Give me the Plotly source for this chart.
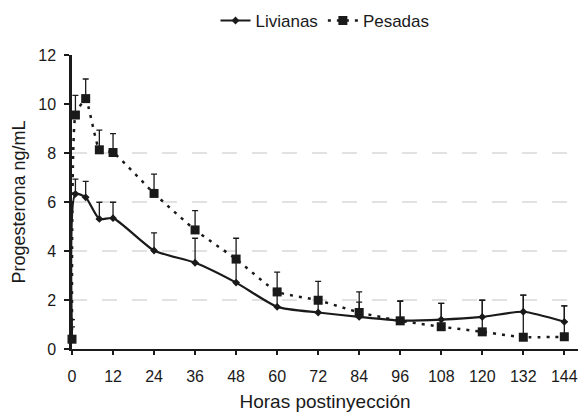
import plotly.graph_objects as go

hours = [0, 1, 4, 8, 12, 24, 36, 48, 60, 72, 84, 96, 108, 120, 132, 144]
livianas = [0.4, 6.33, 6.19, 5.31, 5.34, 4.02, 3.52, 2.71, 1.72, 1.49, 1.31, 1.16, 1.2, 1.31, 1.52, 1.11]
livianas_err = [0.5, 0.6, 0.65, 0.68, 0.65, 0.72, 1.0, 0.9, 0.6, 0.5, 0.6, 0.8, 0.66, 0.68, 0.68, 0.65]
pesadas = [0.4, 9.55, 10.22, 8.13, 8.02, 6.35, 4.86, 3.67, 2.33, 1.99, 1.49, 1.15, 0.91, 0.70, 0.48, 0.5]
pesadas_err = [0.8, 0.8, 0.8, 0.8, 0.77, 0.79, 0.79, 0.85, 0.81, 0.77, 0.84, 0.8, 0.95, 1.29, 1.72, 1.26]
x_ticks = [0, 12, 24, 36, 48, 60, 72, 84, 96, 108, 120, 132, 144]
y_ticks = [0, 2, 4, 6, 8, 10, 12]
grid_levels = [2, 4, 6, 8]

font_family = "Liberation Sans, Arial, sans-serif"
ink = "#1a1a1a"

fig = go.Figure()
fig.add_trace(go.Scatter(
    x=hours, y=livianas, name="Livianas", mode="lines+markers",
    line=dict(color=ink, width=2.2, shape="spline", smoothing=0.6),
    marker=dict(symbol="diamond", size=6, color=ink),
    error_y=dict(type="data", array=livianas_err, symmetric=False,
                 arrayminus=[0] * len(livianas_err), color=ink, thickness=1.3, width=3),
    cliponaxis=False,
))
fig.add_trace(go.Scatter(
    x=hours, y=pesadas, name="Pesadas", mode="lines+markers",
    line=dict(color=ink, width=2.5, dash="3px,6px", shape="spline", smoothing=0.4),
    marker=dict(symbol="square", size=9, color=ink),
    error_y=dict(type="data", array=pesadas_err, symmetric=False,
                 arrayminus=[0] * len(pesadas_err), color=ink, thickness=1.3, width=3),
    cliponaxis=False,
))

for g in grid_levels:
    fig.add_shape(type="line", xref="paper", yref="y", x0=0, x1=1, y0=g, y1=g,
                  line=dict(color="#c4c4c4", width=1, dash="longdash"), layer="below")

fig.update_layout(
    width=582, height=414,
    margin=dict(l=72, r=4, t=54, b=65),
    paper_bgcolor="white", plot_bgcolor="white",
    font=dict(family=font_family, size=16, color=ink),
    showlegend=True,
    legend=dict(orientation="h", x=0.5, xanchor="center", y=1.112, yanchor="middle",
                font=dict(size=17), itemwidth=30, tracegroupgap=0),
    xaxis=dict(range=[0, 148], tickvals=x_ticks, showgrid=False, zeroline=False,
               showline=True, linecolor=ink, linewidth=2, ticks="outside", ticklen=4,
               tickcolor=ink, tickwidth=1.5, tickfont=dict(size=16), ticklabelstandoff=8,
               title=dict(text="Horas postinyección", font=dict(size=19), standoff=10)),
    yaxis=dict(range=[0, 12], tickvals=y_ticks, showgrid=False, zeroline=False,
               showline=True, linecolor=ink, linewidth=2.5, ticks="outside", ticklen=5,
               tickcolor=ink, tickwidth=1.5, tickfont=dict(size=16), ticklabelstandoff=5,
               title=dict(text="Progesterona ng/mL", font=dict(size=18), standoff=8)),
)

fig.write_html("out.html", config={"displayModeBar": False},
               post_script="document.body.style.margin='0';document.body.style.padding='0';")
